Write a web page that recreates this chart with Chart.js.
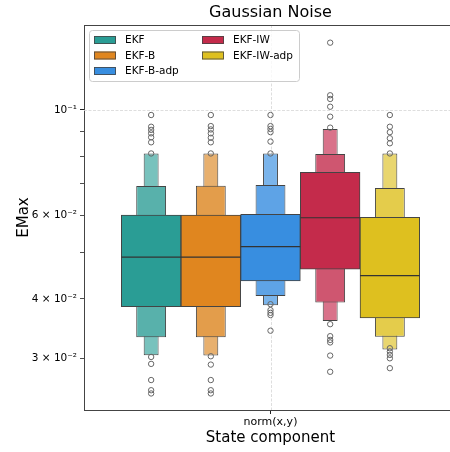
<!DOCTYPE html>
<html>
<head>
<meta charset="utf-8">
<script src="https://cdn.jsdelivr.net/npm/chart.js@4.4.1/dist/chart.umd.min.js"></script>
<style>
  html, body { margin: 0; padding: 0; background: #fff; overflow: hidden; }
  /* axes run past the right edge of the window, like the cropped figure */
  #wrap { width: 450px; height: 452px; overflow: hidden; }
</style>
</head>
<body>
<div id="wrap"><canvas id="c" width="457" height="452"></canvas></div>
<script>
// Boxen (letter-value) plot — EMax, log y axis.

const HUES = ["EKF", "EKF-B", "EKF-B-adp", "EKF-IW", "EKF-IW-adp"];
const CATEGORY = "norm(x,y)";

// letter values, low → high: L3, L2, L1, median, U1, U2, U3
const LV_EKF      = [0.03045, 0.03323, 0.03854, 0.0490, 0.0601, 0.0692, 0.0810];
const LV_EKF_B    = [0.03040, 0.03323, 0.03854, 0.0490, 0.0601, 0.0693, 0.0810];
const LV_EKF_BADP = [0.0388, 0.04058, 0.04365, 0.05155, 0.0603, 0.0695, 0.0810];
const LV_EKF_IW   = [0.03595, 0.0393, 0.0462, 0.0593, 0.0739, 0.0808, 0.0912];
const LV_EKF_IWADP = [0.0313, 0.0333, 0.0365, 0.0448, 0.0594, 0.0685, 0.0810];

// outliers beyond the last letter value
const OUT_EKF      = [0.0976, 0.0922, 0.0908, 0.0893, 0.0876, 0.0855, 0.0810, 0.0302, 0.0292, 0.0270, 0.0257, 0.0253];
const OUT_EKF_B    = [0.0976, 0.0925, 0.0910, 0.0893, 0.0874, 0.0855, 0.0810, 0.0303, 0.0291, 0.0270, 0.0257, 0.0253];
const OUT_EKF_BADP = [0.0976, 0.0925, 0.0912, 0.0898, 0.0858, 0.0810, 0.0390, 0.0379, 0.0374, 0.0370, 0.0343];
const OUT_EKF_IW   = [0.1386, 0.1074, 0.1055, 0.1016, 0.0968, 0.0918, 0.0354, 0.0334, 0.0328, 0.0324, 0.0304, 0.0281];
const OUT_EKF_IWADP = [0.0976, 0.0922, 0.0898, 0.0872, 0.0851, 0.0810, 0.0315, 0.0310, 0.0305, 0.0300, 0.0286];

const Y_TICKS = [0.03, 0.04, 0.05, 0.06, 0.07, 0.08, 0.09, 0.1];
const Y_TICK_LABELS = ["3 × 10⁻²", "4 × 10⁻²", "", "6 × 10⁻²", "", "", "", "10⁻¹"];

const LV = [LV_EKF, LV_EKF_B, LV_EKF_BADP, LV_EKF_IW, LV_EKF_IWADP];
const OUT = [OUT_EKF, OUT_EKF_B, OUT_EKF_BADP, OUT_EKF_IW, OUT_EKF_IWADP];

// markaziy quti rangi, keyin och tuslar
const COL_L1 = ["#2a9d95", "#e0861f", "#388ee0", "#c42b4b", "#dec01f"];
const COL_L2 = ["#58b1ab", "#e39d4b", "#5ea3e6", "#cf5670", "#e4cc4b"];
const COL_L3 = ["#78c2bd", "#e8b06e", "#7ab4eb", "#d9728a", "#e9d66f"];
const EDGE = "#444444";

const DODGE = 0.8 / HUES.length;          // hue width in category units
const POS = HUES.map((_, i) => (i - (HUES.length - 1) / 2) * DODGE);

function levelData(k) {
  return HUES.map((_, i) => ({ x: POS[i], y: [LV[i][3 - k], LV[i][3 + k]] }));
}

function medianData() {
  const pts = [];
  HUES.forEach((_, i) => {
    pts.push({ x: POS[i] - DODGE / 2, y: LV[i][3] });
    pts.push({ x: POS[i] + DODGE / 2, y: LV[i][3] });
    pts.push({ x: POS[i] + DODGE / 2, y: null });
  });
  return pts;
}

function outlierData() {
  const pts = [];
  HUES.forEach((_, i) => OUT[i].forEach((v) => pts.push({ x: POS[i], y: v })));
  return pts;
}

function boxLevel(k, colors, pct, order) {
  return {
    type: "bar",
    label: "level" + k,
    data: levelData(k),
    backgroundColor: colors,
    borderColor: EDGE,
    borderWidth: 1,
    borderSkipped: false,
    grouped: false,
    categoryPercentage: 1,
    barPercentage: pct,
    order,
  };
}

const frameAndLegend = {
  id: "frameAndLegend",
  beforeDatasetsDraw(chart) {
    const { ctx, chartArea: a, scales: { x, y } } = chart;
    ctx.save();
    ctx.strokeStyle = "#d6d6d6";
    ctx.lineWidth = 0.8;
    ctx.setLineDash([3, 1.5]);
    const gy = Math.round(y.getPixelForValue(0.1)) + 0.5;
    const gx = Math.round(x.getPixelForValue(0)) + 0.5;
    ctx.beginPath();
    ctx.moveTo(a.left, gy); ctx.lineTo(a.right, gy);
    ctx.moveTo(gx, a.top); ctx.lineTo(gx, a.bottom);
    ctx.stroke();
    ctx.restore();
  },
  afterDraw(chart) {
    const { ctx, chartArea: a } = chart;
    ctx.save();
    // top spine
    ctx.strokeStyle = EDGE;
    ctx.lineWidth = 1;
    ctx.beginPath();
    ctx.moveTo(a.left, Math.round(a.top) + 0.5);
    ctx.lineTo(a.right, Math.round(a.top) + 0.5);
    ctx.stroke();

    // legend (2 columns, column-major)
    const lx = a.left + 5, ly = a.top + 5, lw = 210, lh = 51;
    ctx.fillStyle = "rgba(255,255,255,0.8)";
    ctx.strokeStyle = "#cccccc";
    ctx.beginPath();
    ctx.roundRect(lx + 0.5, ly + 0.5, lw, lh, 3);
    ctx.fill();
    ctx.stroke();
    ctx.font = "10.5px 'DejaVu Sans', sans-serif";
    ctx.textBaseline = "middle";
    HUES.forEach((h, i) => {
      const col = i < 3 ? 0 : 1;
      const row = i < 3 ? i : i - 3;
      const px = lx + 5 + col * 108;
      const py = ly + 10 + row * 15.5;
      ctx.fillStyle = COL_L1[i];
      ctx.strokeStyle = EDGE;
      ctx.lineWidth = 0.8;
      ctx.fillRect(px, py - 4, 22, 8);
      ctx.strokeRect(px + 0.5, py - 3.5, 21, 7);
      ctx.fillStyle = "#000";
      ctx.fillText(h, px + 31, py + 0.5);
    });
    ctx.restore();
  },
};

Chart.defaults.font.family = "'DejaVu Sans', sans-serif";
Chart.defaults.color = "#000";

new Chart(document.getElementById("c"), {
  type: "bar",
  data: {
    datasets: [
      {
        type: "scatter",
        label: "outliers",
        data: outlierData(),
        pointRadius: 2.7,
        pointHoverRadius: 2.7,
        borderColor: "#666666",
        backgroundColor: "rgba(0,0,0,0)",
        borderWidth: 1,
        order: 0,
      },
      {
        type: "line",
        label: "median",
        data: medianData(),
        borderColor: "#333333",
        borderWidth: 1.2,
        pointRadius: 0,
        pointHoverRadius: 0,
        spanGaps: false,
        order: 1,
      },
      boxLevel(1, COL_L1, 1, 2),
      boxLevel(2, COL_L2, 0.5, 3),
      boxLevel(3, COL_L3, 0.25, 4),
    ],
  },
  options: {
    responsive: false,
    animation: false,
    events: [],
    layout: { padding: 0, autoPadding: false },
    plugins: {
      legend: { display: false },
      tooltip: { enabled: false },
      title: {
        display: true,
        text: "Gaussian Noise",
        fullSize: false,
        color: "#000",
        font: { size: 16, weight: "normal" },
        padding: { top: 3, bottom: 2.8 },
      },
    },
    scales: {
      x: {
        type: "linear",
        min: -0.5,
        max: 0.5,
        offset: false,
        afterBuildTicks: (s) => { s.ticks = [{ value: 0 }]; },
        afterFit: (s) => { s.height = 42; s.paddingLeft = 0; s.paddingRight = 0; },
        ticks: { callback: () => CATEGORY, font: { size: 11 }, color: "#000", padding: 2, autoSkip: false, maxRotation: 0 },
        grid: { drawOnChartArea: false, tickLength: 4, tickColor: "#222", offset: false },
        border: { color: EDGE, width: 1 },
        title: { display: true, text: "State component", font: { size: 15 }, color: "#000", padding: { top: 0, bottom: 5 } },
      },
      y: {
        type: "logarithmic",
        min: 0.02335,
        max: 0.151,
        afterBuildTicks: (s) => { s.ticks = Y_TICKS.map((v) => ({ value: v })); },
        afterFit: (s) => { s.width = 84; },
        ticks: {
          callback: (v) => { const i = Y_TICKS.indexOf(v); return i >= 0 ? Y_TICK_LABELS[i] : ""; },
          font: { size: 10.5 },
          color: "#000",
          autoSkip: false,
          padding: 3,
        },
        grid: {
          drawOnChartArea: false,
          tickLength: 4,
          tickColor: "#222",
          tickWidth: (c) => (c.tick && c.tick.value === 0.1 ? 1 : 0.8),
        },
        border: { color: EDGE, width: 1 },
        title: { display: true, text: "EMax", font: { size: 15 }, color: "#000", padding: { top: 15, bottom: 0 } },
      },
    },
  },
  plugins: [frameAndLegend],
});
</script>
</body>
</html>
